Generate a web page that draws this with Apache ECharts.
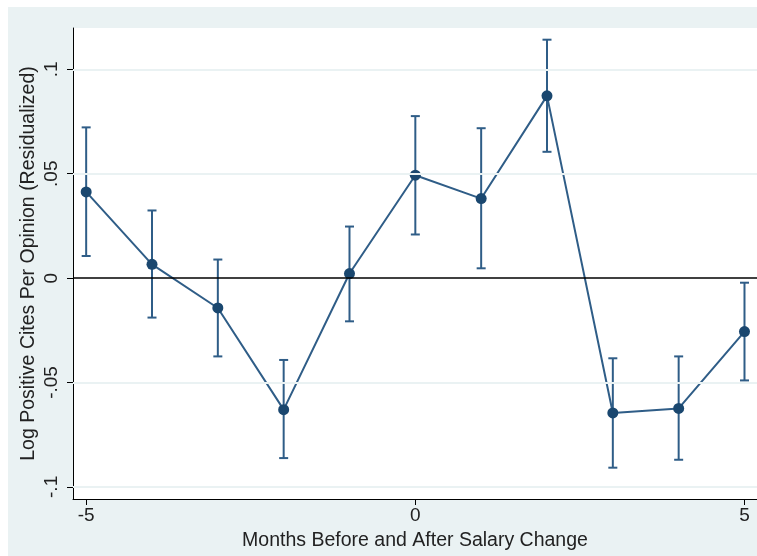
<!DOCTYPE html>
<html>
<head>
<meta charset="utf-8">
<script src="https://cdn.jsdelivr.net/npm/echarts@6/dist/echarts.min.js"></script>
<style>
  html, body { margin: 0; padding: 0; background: #fff; }
  #main { width: 757px; height: 556px; }
</style>
</head>
<body>
<div id="main"></div>
<script>
// months relative to salary change
var months = [-5, -4, -3, -2, -1, 0, 1, 2, 3, 4, 5];
// point estimates
var estimates = [0.0413, 0.0066, -0.0143, -0.0630, 0.0022, 0.0493, 0.0381, 0.0873, -0.0646, -0.0624, -0.0256];
// confidence interval bounds
var ciUpper = [0.0722, 0.0324, 0.0089, -0.0392, 0.0247, 0.0776, 0.0718, 0.1142, -0.0384, -0.0375, -0.0022];
var ciLower = [0.0106, -0.0189, -0.0375, -0.0862, -0.0207, 0.0209, 0.0047, 0.0605, -0.0908, -0.0870, -0.0490];
// tick labels
var xTicks = [-5, 0, 5];
var yTicks = [-0.1, -0.05, 0, 0.05, 0.1];

var navy = '#1a476f';
var barColor = '#2f5d87';

function stataNum(v) {
  if (v === 0) return '0';
  var s = String(Math.round(v * 1000) / 1000);
  return s.replace('0.', '.');
}

var pts = months.map(function (m, i) { return [m, estimates[i]]; });
var bars = months.map(function (m, i) { return [m, ciLower[i], ciUpper[i]]; });

var myChart = echarts.init(document.getElementById('main'));
var option = {
  backgroundColor: '#fff',
  animation: false,
  textStyle: { fontFamily: 'Liberation Sans, Arial, sans-serif' },
  graphic: [{
    type: 'rect', z: -10, silent: true,
    shape: { x: 8, y: 7, width: 749, height: 549 },
    style: { fill: '#eaf2f3' }
  }],
  grid: {
    left: 73, top: 28, right: 0, bottom: 57,
    show: true, backgroundColor: '#fff', borderWidth: 0
  },
  xAxis: {
    type: 'value', min: -5.2, max: 5.19,
    name: 'Months Before and After Salary Change',
    nameLocation: 'middle', nameGap: 32, nameMoveOverlap: false,
    nameTextStyle: { fontSize: 19.5, color: '#222' },
    axisLine: { show: true, onZero: false, lineStyle: { color: '#000', width: 1 } },
    axisTick: { show: true, customValues: xTicks, length: 6, lineStyle: { color: '#000' } },
    axisLabel: { customValues: xTicks, fontSize: 19, color: '#222', margin: 7,
      formatter: function (v) { return String(v); } },
    splitLine: { show: false }
  },
  yAxis: {
    type: 'value', min: -0.1058, max: 0.1198,
    name: 'Log Positive Cites Per Opinion (Residualized)',
    nameLocation: 'middle', nameRotate: 90, nameGap: 34, nameMoveOverlap: false,
    nameTextStyle: { fontSize: 19.5, color: '#222' },
    axisLine: { show: true, onZero: false, lineStyle: { color: '#000', width: 1 } },
    axisTick: { show: true, customValues: yTicks, length: 6, lineStyle: { color: '#000' } },
    axisLabel: { customValues: yTicks, rotate: 90, fontSize: 19, color: '#222', margin: 12,
      formatter: stataNum },
    splitLine: { show: false }
  },
  series: [
    {
      type: 'line', data: [], silent: true,
      markLine: {
        silent: true, symbol: 'none', label: { show: false },
        data: yTicks.filter(function (v) { return v !== 0; }).map(function (v) {
          return { yAxis: v, lineStyle: { color: '#eaf2f3', width: 2, type: 'solid' } };
        }).concat([{ yAxis: 0, lineStyle: { color: '#000', width: 1.5, type: 'solid' } }])
      }
    },
    {
      type: 'custom', data: bars, z: 3,
      renderItem: function (params, api) {
        var x = api.value(0);
        var lo = api.coord([x, api.value(1)]);
        var hi = api.coord([x, api.value(2)]);
        var hw = 4.5;
        var st = { stroke: barColor, lineWidth: 2 };
        return {
          type: 'group',
          children: [
            { type: 'line', shape: { x1: lo[0], y1: lo[1], x2: hi[0], y2: hi[1] }, style: st },
            { type: 'line', shape: { x1: lo[0] - hw, y1: lo[1], x2: lo[0] + hw, y2: lo[1] }, style: st },
            { type: 'line', shape: { x1: hi[0] - hw, y1: hi[1], x2: hi[0] + hw, y2: hi[1] }, style: st }
          ]
        };
      }
    },
    {
      type: 'line', data: pts, z: 4,
      symbol: 'circle', symbolSize: 11,
      lineStyle: { color: barColor, width: 2 },
      itemStyle: { color: navy }
    }
  ]
};
myChart.setOption(option);
</script>
</body>
</html>
